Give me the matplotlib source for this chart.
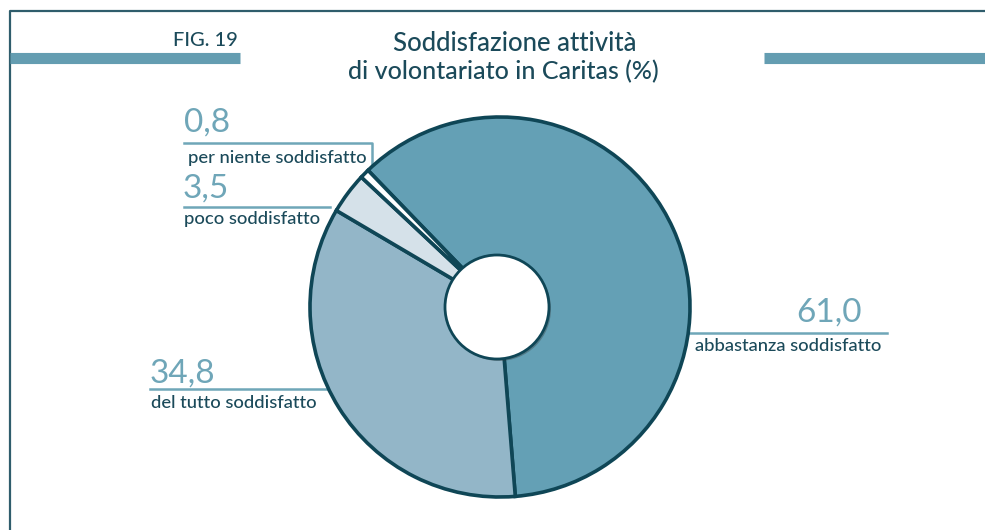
import matplotlib.pyplot as plt
from matplotlib.patches import Circle

plt.rcParams['font.family'] = ['Lato', 'DejaVu Sans']

# data
categorie = ["abbastanza soddisfatto", "del tutto soddisfatto",
             "poco soddisfatto", "per niente soddisfatto"]
valori = [61.0, 34.8, 3.5, 0.8]
etichette = ["61,0", "34,8", "3,5", "0,8"]
colori = ["#64a0b5", "#93b6c8", "#d5e1e9", "#ffffff"]

navy = "#0f4656"
titolo_col = "#1b4a5a"
num_col = "#6fa6b8"

W, H = 985, 530
fig = plt.figure(figsize=(W / 100, H / 100), dpi=100)
ax = fig.add_axes([0, 0, 1, 1])

def Y(y):
    # y dell'immagine (dall'alto) -> y dei dati
    return H - y

# cornice e barre
ax.plot([10, 10, W], [0, Y(11), Y(11)], color="#2f5d6c", lw=1.6, solid_capstyle="butt")
ax.plot([10, 240], [Y(57.5), Y(57.5)], color="#649db1", lw=8, solid_capstyle="butt")
ax.plot([764, W], [Y(57.5), Y(57.5)], color="#649db1", lw=8, solid_capstyle="butt")

ax.text(238, Y(46), "FIG. 19", ha="right", va="baseline", fontsize=14.5,
        color=titolo_col, fontweight="medium")
ax.text(515, Y(51), "Soddisfazione attività", ha="center", va="baseline",
        fontsize=18.5, color=titolo_col, fontweight="medium")
ax.text(503, Y(79), "di volontariato in Caritas (%)", ha="center", va="baseline",
        fontsize=18, color=titolo_col, fontweight="medium")

# linee guida (sotto la torta)
lw_g = 1.8
ax.plot([184, 372, 372], [Y(143), Y(143), Y(165)], color=num_col, lw=lw_g, zorder=1)
ax.plot([184, 330], [Y(207), Y(207)], color=num_col, lw=lw_g, zorder=1)
ax.plot([150, 330], [Y(389), Y(389)], color=num_col, lw=lw_g, zorder=1)
ax.plot([680, 887], [Y(333), Y(333)], color=num_col, lw=lw_g, zorder=1)

# torta
wedges, _ = ax.pie(valori, colors=colori, startangle=134, counterclock=False,
                   center=(500, Y(307)), radius=190, frame=True,
                   wedgeprops=dict(edgecolor=navy, linewidth=2.6))
for w in wedges:
    w.set_zorder(2)
ax.set_xlim(0, W)
ax.set_ylim(0, H)
ax.set_aspect("equal")
ax.axis("off")

shadow = Circle((499, Y(309)), 52, facecolor="#333333", edgecolor="none",
                alpha=0.35, zorder=3)
ax.add_patch(shadow)
hole = Circle((497, Y(307)), 52, facecolor="white", edgecolor=navy, lw=2, zorder=4)
ax.add_patch(hole)

# etichette
num_fs = 24
lab_fs = 13.2
pos = {
    "61,0": (862, Y(322), "right", 695, Y(351)),
    "34,8": (150, Y(383), "left", 151, Y(408)),
    "3,5": (183, Y(198), "left", 184, Y(224)),
    "0,8": (184, Y(132), "left", 188, Y(163)),
}
for cat, lab in zip(categorie, etichette):
    x, y, ha, lx, ly = pos[lab]
    ax.text(x, y, lab, ha=ha, va="baseline", fontsize=num_fs, color=num_col)
    ax.text(lx, ly, cat, ha="left", va="baseline", fontsize=lab_fs,
            color=titolo_col, fontweight="medium")

fig.savefig("out.png", dpi=100)
